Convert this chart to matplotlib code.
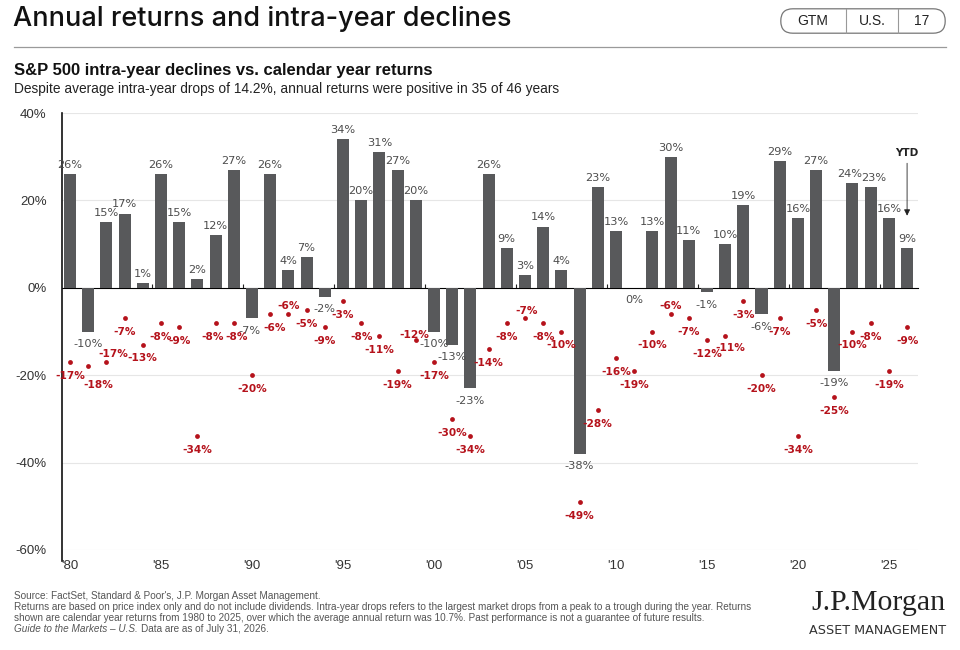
import matplotlib
matplotlib.use("Agg")
import matplotlib.pyplot as plt
from matplotlib.patches import FancyBboxPatch
from matplotlib.lines import Line2D

plt.rcParams['font.family'] = ['Liberation Sans', 'DejaVu Sans']

# S&P 500 calendar year returns (%) and intra-year declines (%), 1980 - 2026 YTD
years = list(range(1980, 2027))
returns = [26, -10, 15, 17, 1, 26, 15, 2, 12, 27,
           -7, 26, 4, 7, -2, 34, 20, 31, 27, 20,
           -10, -13, -23, 26, 9, 3, 14, 4, -38, 23,
           13, 0, 13, 30, 11, -1, 10, 19, -6, 29,
           16, 27, -19, 24, 23, 16, 9]
declines = [-17, -18, -17, -7, -13, -8, -9, -34, -8, -8,
            -20, -6, -6, -5, -9, -3, -8, -11, -19, -12,
            -17, -30, -34, -14, -8, -7, -8, -10, -49, -28,
            -16, -19, -10, -6, -7, -12, -11, -3, -20, -7,
            -34, -5, -25, -10, -8, -19, -9]
xtick_years = [1980, 1985, 1990, 1995, 2000, 2005, 2010, 2015, 2020, 2025]
xtick_labels = ["'80", "'85", "'90", "'95", "'00", "'05", "'10", "'15", "'20", "'25"]
yticks = [40, 20, 0, -20, -40, -60]

BAR = '#58595b'
RED = '#b5121b'
LBL = '#4d4d4d'
VAL_FONT = ['DejaVu Sans']

# decline labels that sit above / beside their dot instead of straight below
label_nudge = {1981: (7, -13), 1982: (5, 6), 1988: (-2, -10), 1989: (2, -10),
               1991: (3, -10), 1992: (0, 6), 2005: (1, 5), 2013: (0, 6),
               1999: (-1, 4), 2016: (4, -9)}
# return labels pushed sideways so neighbours do not collide
return_nudge = {1990: -2, 2023: -2, 2024: 2}

fig = plt.figure(figsize=(9.6, 6.5), dpi=100)

# header
fig.text(13/960, 1 - 19/650, 'Annual returns and intra-year declines', fontsize=19.5,
         family=['Inter', 'DejaVu Sans'], weight='medium', color='#111111', va='center', ha='left')
fig.add_artist(Line2D([14/960, 946/960], [1 - 47/650, 1 - 47/650], color='#9a9a9a', lw=0.9))
fig.text(14/960, 1 - 71/650, 'S&P 500 intra-year declines vs. calendar year returns',
         fontsize=12, weight='bold', color='#111111', va='center')
fig.text(14/960, 1 - 89/650,
         'Despite average intra-year drops of 14.2%, annual returns were positive in 35 of 46 years',
         fontsize=9.9, color='#222222', va='center')

# pill box: GTM | U.S. | 17
pill = fig.add_axes([780/960, 1 - 34/650, 166/960, 26/650])
pill.set_xlim(0, 166)
pill.set_ylim(0, 26)
pill.axis('off')
pill.add_patch(FancyBboxPatch((0.8, 0.8), 164.4, 24.4, boxstyle='round,pad=0,rounding_size=12',
                              fc='white', ec='#777777', lw=0.9))
pill.plot([66, 66], [0.8, 25.2], color='#999999', lw=0.8)
pill.plot([118, 118], [0.8, 25.2], color='#999999', lw=0.8)
for xc, s in [(33, 'GTM'), (92, 'U.S.'), (142, '17')]:
    pill.text(xc, 13, s, ha='center', va='center', fontsize=10, color='#222222')

# main chart
ax = fig.add_axes([62/960, 1 - 550/650, 856/960, 437/650])
ax.set_xlim(1979.56, 2026.6)
ax.set_ylim(-60, 40)

for y in yticks:
    if y != 0:
        ax.axhline(y, color='#e6e6e6', lw=0.8, zorder=0)

ax.bar(years, returns, width=0.66, color=BAR, zorder=2)
ax.scatter(years, declines, s=12, color=RED, zorder=3, linewidths=0)

for yr, r in zip(years, returns):
    dx = return_nudge.get(yr, 0)
    if r > 0:
        ax.annotate(f'{r}%', (yr, r), xytext=(dx, 3), textcoords='offset points',
                    ha='center', va='bottom', fontsize=8.2, color=LBL, family=VAL_FONT)
    else:
        ax.annotate(f'{r}%', (yr, r), xytext=(dx, -9), textcoords='offset points',
                    ha='center', va='center', fontsize=8.2, color=LBL, family=VAL_FONT)

for yr, d in zip(years, declines):
    dx, dy = label_nudge.get(yr, (0, -10))
    ax.annotate(f'{d}%', (yr, d), xytext=(dx, dy), textcoords='offset points',
                ha='center', va='center', fontsize=7.6, color=RED, weight='bold',
                family=VAL_FONT, zorder=4)

# YTD marker over the last bar
ax.annotate('', xy=(years[-1], returns[-1] + 7.5), xytext=(years[-1], returns[-1] + 19.5),
            arrowprops=dict(arrowstyle='-|>', color='#222222', lw=0.6, mutation_scale=9,
                            shrinkA=0, shrinkB=0))
ax.text(years[-1], returns[-1] + 20.8, 'YTD', ha='center', va='bottom', fontsize=7.5,
        weight='bold', color='#222222', family=VAL_FONT)

# zero line with small ticks between the labelled years
zero = ax.secondary_xaxis(0.6)
zero.spines['bottom'].set_color('#222222')
zero.spines['bottom'].set_linewidth(1.2)
zero.set_xticks([y - 0.5 for y in xtick_years[1:]])
zero.set_xticklabels([])
zero.tick_params(axis='x', length=3, width=0.8, color='#222222', direction='out')

for side in ['top', 'right', 'bottom']:
    ax.spines[side].set_visible(False)
ax.spines['left'].set_color('#111111')
ax.spines['left'].set_linewidth(1.2)
ax.spines['left'].set_bounds(-62.5, 40)

ax.set_xticks(xtick_years)
ax.set_xticklabels(xtick_labels, fontsize=9.5, color='#333333')
ax.tick_params(axis='x', length=0, pad=7)
ax.set_yticks(yticks)
ax.set_yticklabels([f'{y}%' for y in yticks], fontsize=9.5, color='#333333')
ax.tick_params(axis='y', length=0, pad=11)

# footnotes
foot_kw = dict(fontsize=7.2, color='#555555', va='center', ha='left')
fig.text(14/960, 1 - 596/650, "Source: FactSet, Standard & Poor's, J.P. Morgan Asset Management.", **foot_kw)
fig.text(14/960, 1 - 607/650,
         'Returns are based on price index only and do not include dividends. Intra-year drops refers to '
         'the largest market drops from a peak to a trough during the year. Returns',
         **foot_kw)
fig.text(14/960, 1 - 618/650,
         'shown are calendar year returns from 1980 to 2025, over which the average annual return was 10.7%. '
         'Past performance is not a guarantee of future results.', **foot_kw)
guide = fig.text(14/960, 1 - 629/650, 'Guide to the Markets \u2013 U.S.', style='italic', **foot_kw)
renderer = fig.canvas.get_renderer()
bb = guide.get_window_extent(renderer)
fig.text(bb.x1 / fig.bbox.width + 3/960, 1 - 629/650, 'Data are as of July 31, 2026.', **foot_kw)

# logo
fig.text(946/960, 1 - 603/650, 'J.P.Morgan', ha='right', va='center', fontsize=21.5,
         family=['Liberation Serif', 'DejaVu Serif'], color='#222222')
fig.text(946/960, 1 - 631/650, 'ASSET MANAGEMENT', ha='right', va='center', fontsize=9.2,
         family=['Liberation Sans Narrow', 'DejaVu Sans'], color='#333333')

fig.savefig('out.png', dpi=100)
